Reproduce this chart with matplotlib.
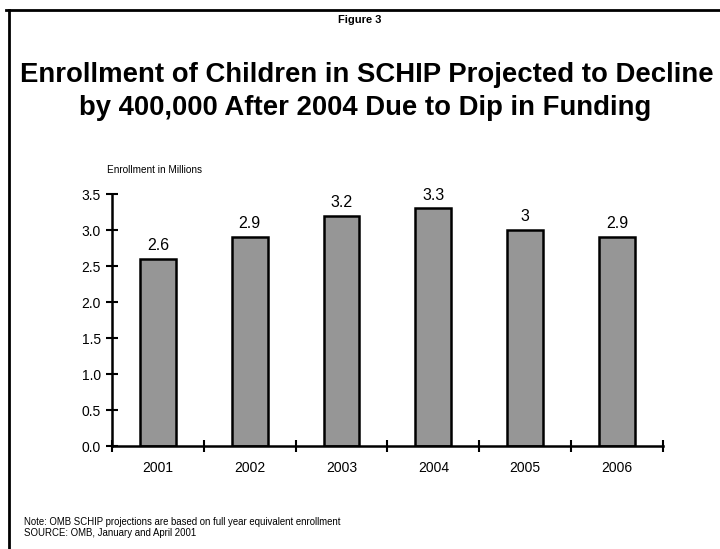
import matplotlib
matplotlib.use("Agg")
from matplotlib import pyplot as plt
from matplotlib.lines import Line2D

years = ["2001", "2002", "2003", "2004", "2005", "2006"]
enrollment = [2.6, 2.9, 3.2, 3.3, 3.0, 2.9]
value_labels = ["2.6", "2.9", "3.2", "3.3", "3", "2.9"]
y_ticks = [0.0, 0.5, 1.0, 1.5, 2.0, 2.5, 3.0, 3.5]

plt.rcParams['font.family'] = ['Liberation Sans', 'DejaVu Sans']

fig = plt.figure(figsize=(7.2, 5.49), dpi=100)
ax = fig.add_axes([0.1556, 0.1876, 0.765, 0.459])

x = list(range(len(years)))
ax.bar(x, enrollment, width=0.39, color="#969696", edgecolor="black", linewidth=1.8)
for xi, v, lab in zip(x, enrollment, value_labels):
    ax.text(xi, v + 0.08, lab, ha="center", va="bottom", fontsize=11.5)

ax.set_xlim(-0.5, 5.5)
ax.set_ylim(0, 3.5)
ax.set_yticks(y_ticks)
ax.set_yticklabels([f"{t:.1f}" for t in y_ticks], fontsize=10)
# ticks at category boundaries, labels at centres
ax.set_xticks([i - 0.5 for i in range(len(years) + 1)])
ax.set_xticklabels([])
ax.set_xticks(x, minor=True)
ax.set_xticklabels(years, minor=True, fontsize=10)
ax.tick_params(axis="x", which="minor", length=0, pad=11)
ax.tick_params(axis="x", which="major", direction="inout", length=8, width=1.5)
ax.tick_params(axis="y", direction="inout", length=8, width=1.5, pad=4)

for side in ["top", "right"]:
    ax.spines[side].set_visible(False)
for side in ["left", "bottom"]:
    ax.spines[side].set_linewidth(1.8)

ax.text(-0.009, 1.075, "Enrollment in Millions", transform=ax.transAxes,
        fontsize=7.2, ha="left", va="bottom")

fig.text(0.5, 0.963, "Figure 3", ha="center", va="center", fontsize=8, fontweight="bold")
fig.text(0.509, 0.863, "Enrollment of Children in SCHIP Projected to Decline",
         ha="center", va="center", fontsize=19.8, fontweight="bold")
fig.text(0.507, 0.803, "by 400,000 After 2004 Due to Dip in Funding",
         ha="center", va="center", fontsize=19.8, fontweight="bold")

fig.text(0.034, 0.039, "Note: OMB SCHIP projections are based on full year equivalent enrollment\n"
         "SOURCE: OMB, January and April 2001", ha="left", va="center",
         fontsize=6.9, linespacing=1.15)

# frame lines (top and left)
fig.add_artist(Line2D([0.009, 1.0], [0.981, 0.981], color="black", linewidth=2,
                      transform=fig.transFigure))
fig.add_artist(Line2D([0.012, 0.012], [0.0, 0.981], color="black", linewidth=2,
                      transform=fig.transFigure))

fig.savefig("out.png", dpi=100)
